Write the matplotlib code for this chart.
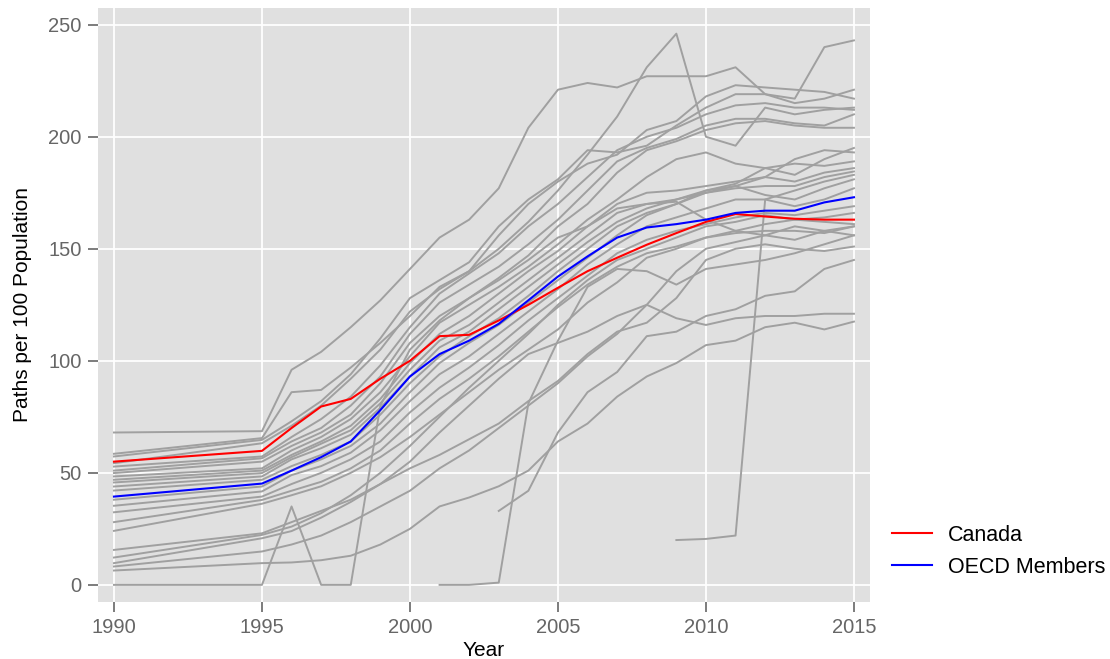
import matplotlib
matplotlib.use("Agg")
import matplotlib.pyplot as plt
import numpy as np

plt.rcParams["font.family"] = ["Liberation Sans", "DejaVu Sans"]

GRAY = "#A0A0A0"; PANEL = "#E0E0E0"; TICK = "#666666"
nan = np.nan

years = [1990, 1995] + list(range(1996, 2016))

canada = [55, 59.8, 70, 79.6, 83, 92, 100, 111, 111.6, 118, 125, 132.6, 140, 146,
          151.8, 157, 162, 165.5, 164.4, 163.4, 163, 163]
oecd = [39.4, 45.2, 51, 57, 64, 78, 93, 103, 109, 116.5, 127, 137.6, 146.6, 155,
        159.5, 161, 163, 166, 167, 167, 170.7, 173]

# other member countries (grey)
m01 = [68, 68.6, 96, 104, 115, 127, 141, 155, 163, 177, 204, 221, 224, 222, 227, 227, 227, 231, 219, 217, 240, 243]
m02 = [58.5, 65.5, 86, 87, 97, 108, 120, 133, 140, 150, 162, 176, 192, 209, 231, 246, 200, 196, 213, 210, 212, 213]
m03 = [57.3, 64.7, 73, 82, 94, 110, 128, 136, 144, 160, 172, 181, 194, 193, 196, 205, 213, 219, 219, 215, 217, 221]
m04 = [54.3, 63.2, 71, 80, 92, 105, 122, 132, 140, 156, 170, 180, 188, 192, 203, 207, 218, 223, 222, 221, 220, 217]
m05 = [52.8, 57.3, 66, 74, 84, 98, 115, 130, 139, 148, 160, 170, 182, 194, 200, 204, 210, 214, 215, 213, 213, 212]
m06 = [51, 56.5, 64, 70, 80, 93, 112, 126, 134, 142, 152, 163, 176, 189, 195, 199, 205, 208, 208, 206, 205, 210]
m07 = [49.9, 55, 62, 68, 76, 90, 108, 120, 128, 137, 147, 160, 170, 184, 194, 198, 203, 206, 207, 205, 204, 204]
m08 = [48.4, 52, 60, 66, 74, 86, 102, 117, 125, 133, 142, 152, 163, 172, 182, 190, 193, 188, 186, 183, 190, 195]
m09 = [46.9, 51, 58, 64, 71, 83, 99, 112, 120, 130, 140, 149, 160, 170, 175, 176, 178, 180, 182, 190, 194, 193]
m10 = [45.7, 49.9, 57, 63, 69, 81, 96, 109, 116, 126, 136, 146, 156, 166, 170, 172, 176, 179, 186, 188, 187, 189]
m11 = [43.9, 48.4, 56, 61, 67, 79, 93, 106, 113, 123, 133, 143, 153, 162, 168, 172, 175, 178, 182, 180, 184, 186]
m12 = [42.1, 46.9, 53, 58, 64, 76, 90, 102, 111, 119, 129, 140, 150, 160, 166, 170, 175, 177, 178, 178, 182, 184.5]
m13 = [38, 43.9, 51, 56, 62, 72, 86, 99, 108, 116, 126, 136, 146, 156, 165, 170, 176, 178, 174, 172, 177, 181]
m14 = [35.3, 41.7, 49, 53, 59, 69, 82, 94, 102, 112, 122, 132, 143, 152, 160, 164, 168, 172, 172, 169, 172, 177]
m15 = [32.4, 39.4, 45, 50, 56, 64, 77, 88, 97, 107, 118, 128, 138, 148, 154, 158, 161, 164, 166, 165, 167, 169]
m16 = [28, 37.9, 42, 46, 52, 60, 72, 83, 92, 102, 113, 124, 134, 142, 148, 151, 155, 158, 161, 163, 164, 166]
m17 = [24.1, 36.2, 40, 44, 50, 57, 66, 76, 86, 96, 105, 114, 126, 135, 146, 150, 155, 157, 158, 158, 157, 160]
m18 = [15.6, 23, 28, 33, 38, 45, 52, 58, 65, 72, 82, 91, 103, 113, 117, 128, 145, 150, 152, 150, 149, 151]
m19 = [12.2, 22.3, 26, 32, 40, 50, 62, 75, 88, 100, 112, 125, 136, 145, 150, 155, 160, 162, 165, 163, 162, 161]
m20 = [9.7, 20.8, 24, 30, 37, 45, 55, 68, 80, 92, 103, 108, 113, 120, 125, 119, 116, 119, 120, 120, 121, 121]
m21 = [8.2, 14.9, 18, 22, 28, 35, 42, 52, 60, 70, 80, 90, 102, 112, 125, 140, 150, 153, 156, 160, 158, 156]
m22 = [6.4, 9.7, 10, 11, 13, 18, 25, 35, 39, 44, 51, 64, 72, 84, 93, 99, 107, 109, 115, 117, 114, 117.5]
m23 = [0, 0, 35, 0, 0, 80, 105, 118, 128, 136, 145, 155, 160, 168, 170, 171, 163, 158, 156, 154, 158, 160]
m24 = [nan] * 7 + [0, 0, 1, 81, 109, 133, 141, 140, 134, 141, 143, 145, 148, 152, 156]
m25 = [nan] * 9 + [33, 42, 68, 86, 95, 111, 113, 120, 123, 129, 131, 141, 145]
m26 = [nan] * 15 + [20, 20.5, 22, 172, 176, 180, 183]

others = [m01, m02, m03, m04, m05, m06, m07, m08, m09, m10, m11, m12, m13,
          m14, m15, m16, m17, m18, m19, m20, m21, m22, m23, m24, m25, m26]

fig = plt.figure(figsize=(11.1, 6.59), dpi=100)
ax = fig.add_axes([0.088, 0.087, 0.696, 0.901])
ax.set_facecolor(PANEL)
for s in ax.spines.values():
    s.set_visible(False)

for m in others:
    ax.plot(years, m, color=GRAY, lw=1.4, zorder=2)
ax.plot(years, canada, color="#FF0000", lw=1.5, zorder=3, label="Canada")
ax.plot(years, oecd, color="#0000FF", lw=1.5, zorder=3, label="OECD Members")

ax.set_xlim(1989.45, 2015.55)
ax.set_ylim(-7.5, 257.5)
ax.set_xticks([1990, 1995, 2000, 2005, 2010, 2015])
ax.set_yticks([0, 50, 100, 150, 200, 250])
ax.grid(True, color="white", lw=1.3, zorder=0)
ax.set_axisbelow(True)
ax.tick_params(colors=TICK, labelcolor=TICK, labelsize=14.5, length=7, width=1.2, pad=4.5)
ax.set_xlabel("Year", fontsize=15, labelpad=3)
ax.set_ylabel("Paths per 100 Population", fontsize=15, labelpad=12)

ax.legend(loc="center left", bbox_to_anchor=(1.003, 0.085), frameon=False,
          fontsize=15.5, handlelength=1.85, handletextpad=0.75, labelspacing=0.5)

fig.savefig("out.png", dpi=100)
